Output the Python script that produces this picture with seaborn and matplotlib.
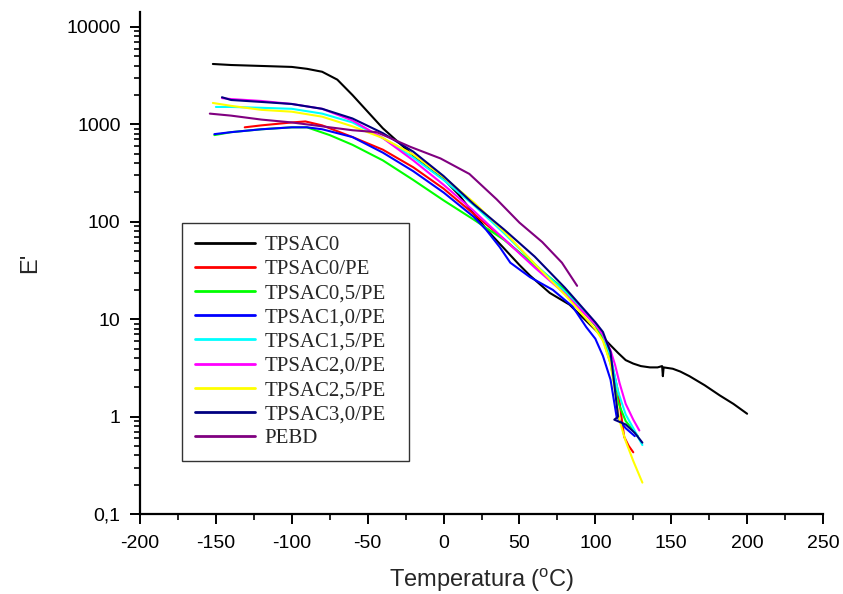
import matplotlib
matplotlib.use('Agg')
import matplotlib.pyplot as plt
import seaborn as sns
import pandas as pd
from matplotlib.ticker import FixedLocator, MultipleLocator, LogLocator, NullFormatter

# Storage modulus E' vs temperature
t_tpsac0 = [-152, -140, -120, -100, -90, -80, -70, -60, -50, -40, -30, -20, -10, 0, 10, 20, 30, 40, 50, 57,
            70, 83, 100, 105, 110, 115, 120, 125, 130, 136, 141, 144, 144.5, 145, 151, 156, 162, 172, 182, 191, 200]
e_tpsac0 = [4170, 4070, 3980, 3890, 3720, 3470, 2880, 2000, 1350, 912, 661, 479, 355, 275, 190, 120, 78, 53, 36, 28,
            18.6, 14.1, 7.8, 6.5, 5.4, 4.5, 3.8, 3.5, 3.3, 3.2, 3.2, 3.3, 2.6, 3.2, 3.1, 2.9, 2.6, 2.1, 1.65, 1.35, 1.07]

t_tpsac0_pe = [-131, -120, -100, -91, -80, -70, -60, -40, -20, 0, 20, 40, 60, 80, 100, 105, 110, 115, 119, 122, 125]
e_tpsac0_pe = [933, 977, 1047, 1072, 977, 851, 741, 550, 363, 219, 120, 66, 35, 19.1, 8.7, 6.6, 4.0, 1.8, 0.62, 0.5, 0.43]

t_tpsac05_pe = [-151, -140, -120, -100, -90, -75, -60, -40, -20, 0, 20, 40, 60, 80, 100, 105, 110, 115, 120, 128]
e_tpsac05_pe = [776, 832, 891, 933, 933, 776, 617, 427, 269, 166, 105, 65, 36, 20, 8.7, 6.3, 3.5, 1.4, 0.9, 0.63]

t_tpsac10_pe = [-151, -140, -120, -100, -90, -80, -60, -40, -20, 0, 20, 28, 37, 44, 57, 72, 85, 94, 100, 105,
                110, 114, 120, 126]
e_tpsac10_pe = [794, 832, 891, 933, 933, 891, 741, 513, 331, 200, 112, 83, 55, 38, 27, 20, 13.5, 8.3, 6.3, 4.2,
                2.4, 1.0, 0.76, 0.63]

t_tpsac15_pe = [-150, -140, -120, -100, -80, -60, -40, -20, 0, 20, 40, 60, 80, 100, 105, 110, 115, 120, 125, 131]
e_tpsac15_pe = [1510, 1510, 1480, 1445, 1290, 1047, 724, 457, 269, 148, 76, 37, 19.1, 8.9, 6.9, 4.2, 1.8, 1.05, 0.76, 0.51]

t_tpsac20_pe = [-146, -140, -120, -100, -80, -60, -40, -20, 0, 20, 40, 60, 80, 100, 105, 110, 113, 116, 120, 125, 129]
e_tpsac20_pe = [1860, 1820, 1740, 1620, 1445, 1096, 724, 427, 240, 129, 66, 34, 18.2, 8.9, 6.9, 4.8, 3.4, 2.2, 1.35, 0.93, 0.72]

t_tpsac25_pe = [-152, -140, -120, -100, -80, -60, -40, -20, 0, 20, 40, 60, 80, 100, 105, 110, 113, 116, 120, 125, 131]
e_tpsac25_pe = [1660, 1550, 1410, 1350, 1200, 955, 724, 490, 288, 158, 79, 37, 17.8, 7.9, 6.0, 3.5, 1.8, 0.9, 0.56, 0.35, 0.21]

t_tpsac30_pe = [-146, -140, -120, -100, -80, -60, -40, -20, 0, 20, 40, 60, 80, 100, 105, 110, 115, 112.5, 120, 126, 131]
e_tpsac30_pe = [1900, 1780, 1700, 1620, 1445, 1150, 813, 525, 295, 151, 83, 44, 21, 9.3, 7.4, 4.6, 1.0, 0.93, 0.83, 0.68, 0.54]

t_pebd = [-154, -140, -120, -100, -80, -60, -44, -22, -2, 17, 35, 50, 65, 78, 88]
e_pebd = [1290, 1230, 1120, 1047, 955, 871, 832, 589, 447, 310, 170, 98, 62, 38, 22]

labels = ['TPSAC0', 'TPSAC0/PE', 'TPSAC0,5/PE', 'TPSAC1,0/PE', 'TPSAC1,5/PE',
          'TPSAC2,0/PE', 'TPSAC2,5/PE', 'TPSAC3,0/PE', 'PEBD']
colors = ['#000000', '#ff0000', '#00ff00', '#0000ff', '#00ffff',
          '#ff00ff', '#ffff00', '#000080', '#800080']

series_t = [t_tpsac0, t_tpsac0_pe, t_tpsac05_pe, t_tpsac10_pe, t_tpsac15_pe,
            t_tpsac20_pe, t_tpsac25_pe, t_tpsac30_pe, t_pebd]
series_e = [e_tpsac0, e_tpsac0_pe, e_tpsac05_pe, e_tpsac10_pe, e_tpsac15_pe,
            e_tpsac20_pe, e_tpsac25_pe, e_tpsac30_pe, e_pebd]

rows = []
for name, ts, es in zip(labels, series_t, series_e):
    for t, e in zip(ts, es):
        rows.append({'Amostra': name, 'T': t, 'E': e})
df = pd.DataFrame(rows)

sns.set_style('ticks')
plt.rcParams['font.family'] = ['Liberation Sans', 'DejaVu Sans']
plt.rcParams['mathtext.fontset'] = 'custom'
plt.rcParams['mathtext.rm'] = 'Liberation Sans'
plt.rcParams['axes.unicode_minus'] = False

fig = plt.figure(figsize=(8.43, 5.94), dpi=100)
ax = fig.add_axes([140 / 843, 80 / 594, 683 / 843, 502 / 594])

sns.lineplot(data=df, x='T', y='E', hue='Amostra', hue_order=labels,
             palette=dict(zip(labels, colors)), sort=False, estimator=None,
             linewidth=1.5, ax=ax)

ax.set_yscale('log')
ax.set_xlim(-200, 250)
ax.set_ylim(0.1, 14250)
ax.xaxis.set_major_locator(MultipleLocator(50))
ax.xaxis.set_minor_locator(MultipleLocator(25))
ax.yaxis.set_major_locator(FixedLocator([0.1, 1, 10, 100, 1000, 10000]))
ax.yaxis.set_minor_locator(LogLocator(base=10, subs=range(2, 10)))
ax.yaxis.set_minor_formatter(NullFormatter())
ax.set_yticklabels(['0,1', '1', '10', '100', '1000', '10000'])

for s in ['top', 'right']:
    ax.spines[s].set_visible(False)
for s in ['left', 'bottom']:
    ax.spines[s].set_linewidth(1.6)
    ax.spines[s].set_color('black')
ax.tick_params(which='major', direction='out', length=7, width=1.4, labelsize=14, colors='black')
ax.tick_params(which='minor', direction='out', length=4, width=1.2, colors='black')
ax.tick_params(axis='x', which='major', pad=8)
ax.tick_params(axis='y', which='major', pad=7)

ax.set_xlabel('Temperatura ($^{\\rm o}$C)', fontsize=17, labelpad=10)
ax.set_ylabel("E'", fontsize=17, labelpad=18)

leg = ax.legend(loc='upper left', bbox_to_anchor=(182 / 843, 1 - 458 / 594, 227 / 843, 235 / 594),
                bbox_transform=fig.transFigure, borderaxespad=0, mode='expand', frameon=True,
                fancybox=False, shadow=False, prop={'family': 'Liberation Serif', 'size': 15},
                handlelength=2.9, handletextpad=0.45, labelspacing=0.22, borderpad=0.6)
leg.get_frame().set_edgecolor('#333333')
leg.get_frame().set_linewidth(1.0)
leg.get_frame().set_alpha(1)
for h in leg.get_lines():
    h.set_linewidth(2.0)
leg.set_title(None)

fig.savefig('out.png', dpi=100)
